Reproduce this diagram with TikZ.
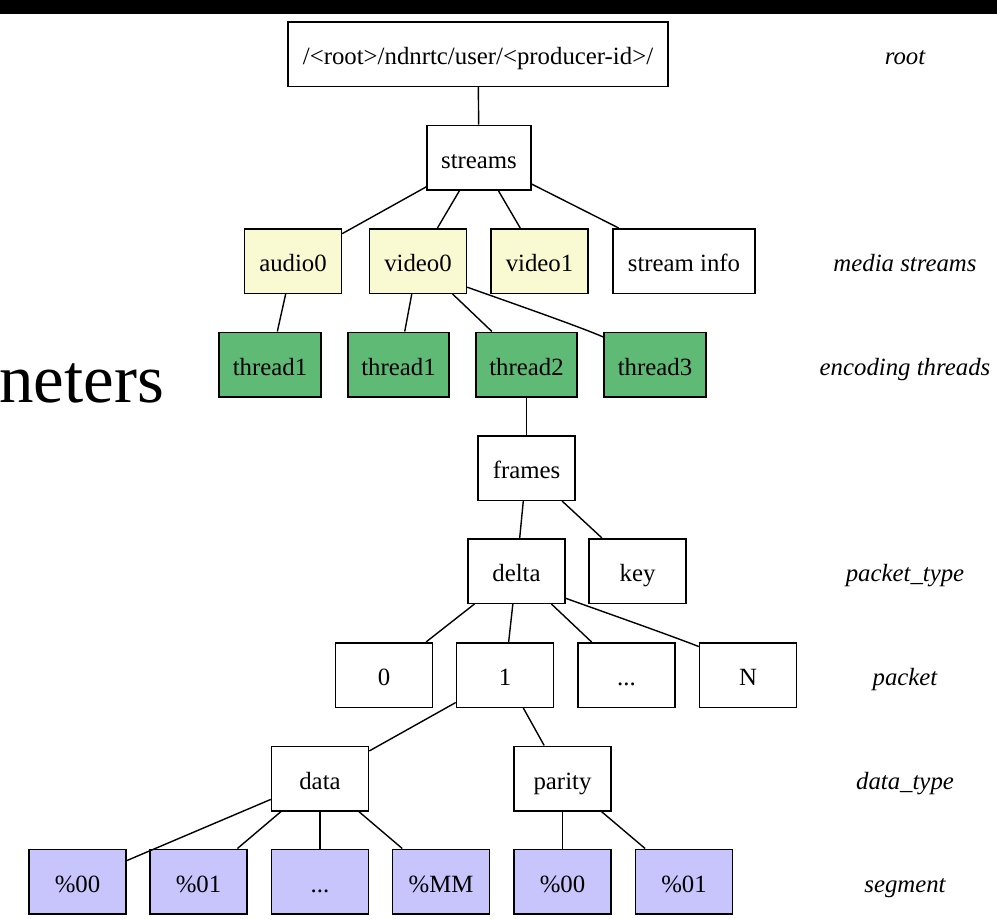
\documentclass[tikz,border=0pt]{standalone}
\usepackage{fontspec}
\setmainfont{Liberation Serif}
\definecolor{yel}{HTML}{FAFAD2}
\definecolor{grn}{HTML}{5FBA76}
\definecolor{pur}{HTML}{C8C5FD}
\begin{document}
\begin{tikzpicture}[x=1pt,y=-1pt,
  box/.style={draw=black, line width=1.5pt, minimum width=97pt, minimum height=64.5pt,
    inner sep=0pt, text height=21pt, text depth=0pt,
    font=\fontsize{24.8}{28}\selectfont, fill=white},
  ybox/.style={box, fill=yel},
  gbox/.style={box, fill=grn},
  pbox/.style={box, fill=pur},
  lbl/.style={font=\fontsize{24.8}{28}\selectfont\itshape, inner sep=0pt,
    text height=21pt, text depth=0pt},
  edge/.style={line width=1.4pt}]
\useasboundingbox (0,0) rectangle (997,919);
\fill[white] (0,0) rectangle (997,919);
\fill[black] (0,0) rectangle (997,14);

\node[anchor=base west, inner sep=0pt, font=\fontsize{69}{70}\selectfont] (title) at (-1,402) {neters};

% nodes
\node[box, minimum width=380pt] (root) at (478,54) {/<root>/ndnrtc/user/<producer-id>/};
\node[box, minimum width=104pt] (streams) at (479,157.5) {streams};
\node[ybox] (audio0) at (293,261) {audio0};
\node[ybox] (video0) at (418,261) {video0};
\node[ybox] (video1) at (539.5,261) {video1};
\node[box, minimum width=142pt] (sinfo) at (684,261) {stream info};
\node[gbox, minimum width=102pt] (t1a) at (270,364.5) {thread1};
\node[gbox, minimum width=101pt] (t1b) at (398.5,364.5) {thread1};
\node[gbox, minimum width=101pt] (t2) at (526.5,364.5) {thread2};
\node[gbox, minimum width=102pt] (t3) at (655,364.5) {thread3};
\node[box] (frames) at (526.5,468) {frames};
\node[box] (delta) at (516.5,571) {delta};
\node[box] (key) at (637.5,571) {key};
\node[box] (p0) at (384,675) {0};
\node[box] (p1) at (505,675) {1};
\node[box] (pd) at (626.5,675) {...};
\node[box] (pN) at (748,675) {N};
\node[box] (data) at (320,778.5) {data};
\node[box] (parity) at (562.5,778.5) {parity};
\node[pbox] (s00) at (77.5,881.5) {\%00};
\node[pbox] (s01) at (198.5,881.5) {\%01};
\node[pbox] (sd) at (320,881.5) {...};
\node[pbox] (sMM) at (441,881.5) {\%MM};
\node[pbox] (s00b) at (562.5,881.5) {\%00};
\node[pbox] (s01b) at (684,881.5) {\%01};

% level labels
\node[lbl] (l1) at (905,54) {root};
\node[lbl] (l2) at (905,261) {media streams};
\node[lbl] (l3) at (905,364.5) {encoding threads};
\node[lbl] (l4) at (905,571) {packet\_type};
\node[lbl] (l5) at (905,675) {packet};
\node[lbl] (l6) at (905,778.5) {data\_type};
\node[lbl] (l7) at (905,881.5) {segment};

% edges
\draw[edge] (root) -- (streams);
\draw[edge] (streams) -- (audio0);
\draw[edge] (streams) -- (video0);
\draw[edge] (streams) -- (video1);
\draw[edge] (streams) -- (sinfo);
\draw[edge] (audio0) -- (t1a);
\draw[edge] (video0) -- (t1b);
\draw[edge] (video0) -- (t2);
\draw[edge] (video0.-28) .. controls +(25,9) and +(-25,-11) .. (t3.152);
\draw[edge] (t2) -- (frames);
\draw[edge] (frames) -- (delta);
\draw[edge] (frames) -- (key);
\draw[edge] (delta) -- (p0);
\draw[edge] (delta) -- (p1);
\draw[edge] (delta) -- (pd);
\draw[edge] (delta.-29) .. controls +(25,9) and +(-25,-10) .. (pN.150);
\draw[edge] (p1) -- (data);
\draw[edge] (p1) -- (parity);
\draw[edge] (data) -- (s00);
\draw[edge] (data) -- (s01);
\draw[edge] (data) -- (sd);
\draw[edge] (data) -- (sMM);
\draw[edge] (parity) -- (s00b);
\draw[edge] (parity) -- (s01b);
\end{tikzpicture}
\end{document}
